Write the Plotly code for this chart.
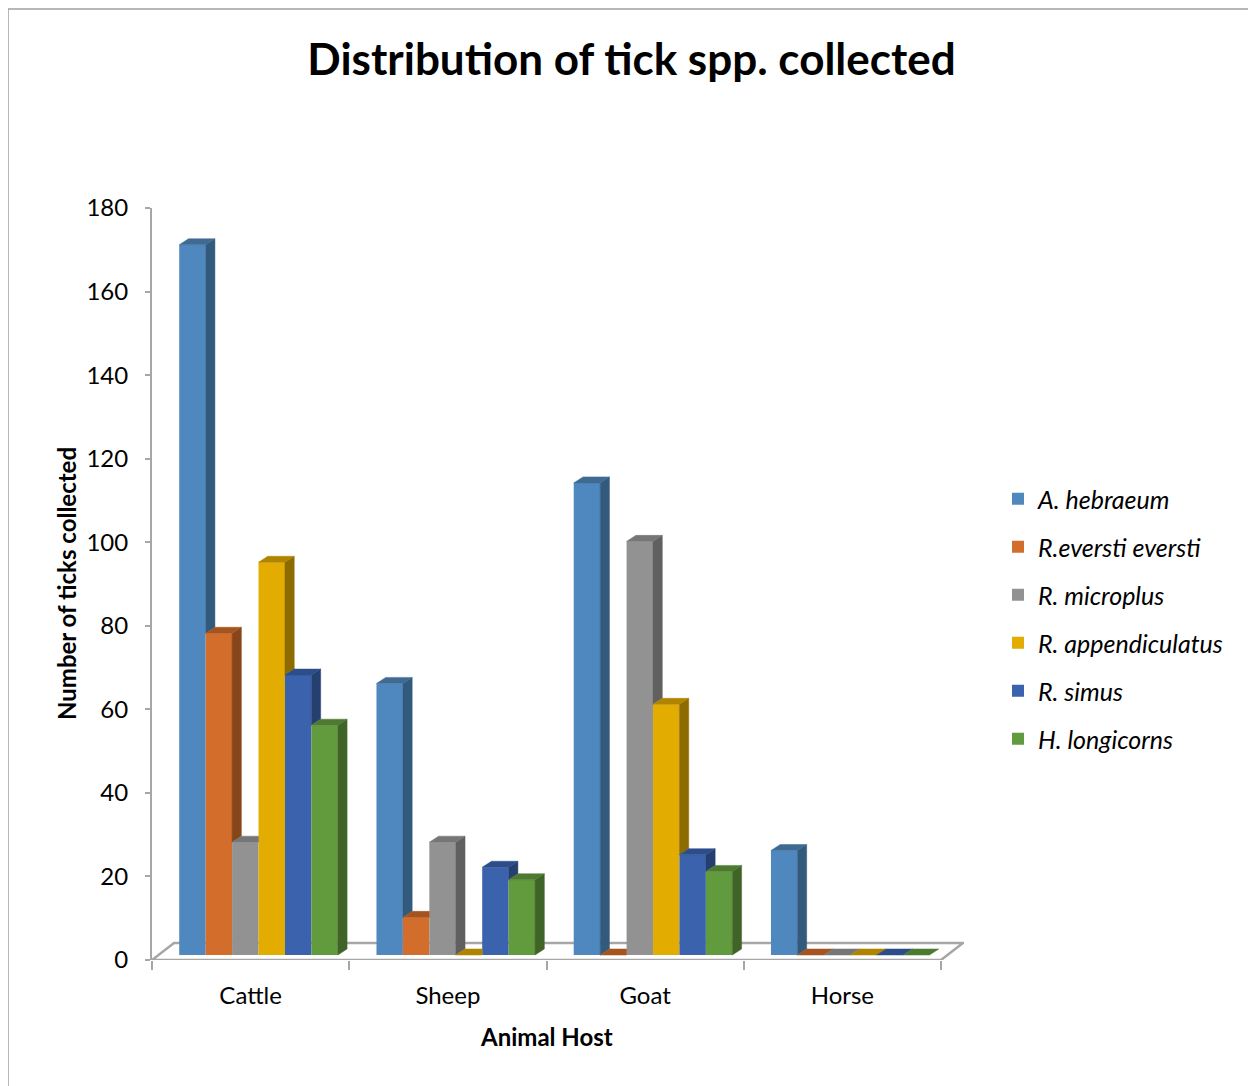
import plotly.graph_objects as go

# ---------------- data ----------------
hosts = ["Cattle", "Sheep", "Goat", "Horse"]
species = ["A. hebraeum", "R.eversti eversti", "R. microplus",
           "R. appendiculatus", "R. simus", "H. longicorns"]
a_hebraeum = [170, 65, 113, 25]
r_eversti_eversti = [77, 9, 0, 0]
r_microplus = [27, 27, 99, 0]
r_appendiculatus = [94, 0, 60, 0]
r_simus = [67, 21, 24, 0]
h_longicorns = [55, 18, 20, 0]
y_tick_values = list(range(0, 181, 20))

series = [a_hebraeum, r_eversti_eversti, r_microplus,
          r_appendiculatus, r_simus, h_longicorns]

# ---------------- style ----------------
front_colors = ["#4F88BF", "#D26D2B", "#929292", "#E2AC00", "#3A62AD", "#629A3E"]
side_colors = ["#325A7D", "#86461A", "#606060", "#8E6B00", "#253F70", "#406428"]
top_colors = ["#3E6A93", "#A5541F", "#767676", "#AF8500", "#2C4D8A", "#4C7A30"]

FONT = "Lato, 'Open Sans', sans-serif"
GROUP_LEFT = -0.362   # left edge of first bar relative to category centre
BAR_W = 0.134         # width of one bar (category units)
BASE = 1.2            # bars stand slightly behind the floor front edge
DX, DY = 0.047, 1.44  # bar depth projection
FDX, FDY = 0.1115, 4.07  # floor depth projection
X_MAX = 3.6166

OFF = 8  # page body margin offset
W, H = 1256 - OFF, 1086 - OFF
L, T = 152 - OFF, 208 - OFF
plot_w = 964 - 152
plot_h = 960 - 208
R = W - L - plot_w
B = H - T - plot_h


def px_to_paper_x(px):
    return (px - 152) / plot_w


def px_to_paper_y(py):
    return (960 - py) / plot_h


fig = go.Figure()

n_cat = len(hosts)
n_sp = len(species)

# front faces (real bar traces)
for j, (name, vals) in enumerate(zip(species, series)):
    fig.add_trace(go.Bar(
        x=list(range(n_cat)), y=vals, base=BASE,
        width=BAR_W, offset=GROUP_LEFT + j * BAR_W,
        name="<i>" + name + "</i>",
        legendgroup=name,
        marker=dict(color=front_colors[j], line=dict(width=0)),
        customdata=vals,
        hovertemplate="%{customdata}<extra>" + name + "</extra>",
    ))

# side and top faces, derived from the same values
for j, vals in enumerate(series):
    sx, sy, tx, ty = [], [], [], []
    for i in range(n_cat):
        v = vals[i]
        nv = series[j + 1][i] if j + 1 < n_sp else None
        xl = i + GROUP_LEFT + j * BAR_W
        xr = xl + BAR_W
        t = BASE + v
        lower = BASE if nv is None else BASE + nv
        if t > lower:
            sx += [xr, xr + DX, xr + DX, xr, xr, None]
            sy += [lower, lower + DY, t + DY, t, lower, None]
        if nv is not None and nv > v:
            tx += [xl, xl + DX, xr, xr, xl, None]
        else:
            tx += [xl, xl + DX, xr + DX, xr, xl, None]
        ty += [t, t + DY, t + DY, t, t, None]
    fig.add_trace(go.Scatter(x=sx, y=sy, mode="lines", fill="toself",
                             fillcolor=side_colors[j],
                             line=dict(color=side_colors[j], width=0.5),
                             hoverinfo="skip", showlegend=False))
    fig.add_trace(go.Scatter(x=tx, y=ty, mode="lines", fill="toself",
                             fillcolor=top_colors[j],
                             line=dict(color=top_colors[j], width=0.5),
                             hoverinfo="skip", showlegend=False))

GRAY = "#A6A6A6"

shapes = [
    dict(type="path", xref="x", yref="y", layer="below",
         path=f"M -0.5,0 L {n_cat - 0.5},0 L {n_cat - 0.5 + FDX},{FDY} L {-0.5 + FDX},{FDY} Z",
         line=dict(color=GRAY, width=2.5), fillcolor="white"),
    dict(type="rect", xref="paper", yref="paper",
         x0=px_to_paper_x(8), x1=px_to_paper_x(1255),
         y0=px_to_paper_y(1095), y1=px_to_paper_y(9),
         line=dict(color="#A0A0A0", width=1.5), fillcolor="rgba(0,0,0,0)"),
]

annotations = [
    dict(text="<b>Animal Host</b>", xref="x", yref="paper", x=(n_cat - 1) / 2,
         y=px_to_paper_y(1036), xanchor="center", yanchor="middle",
         showarrow=False, font=dict(family=FONT, size=24, color="#000")),
    dict(text="<b>Number of ticks collected</b>", xref="paper", yref="paper",
         x=px_to_paper_x(66), y=0.5, textangle=-90, xanchor="center",
         yanchor="middle", showarrow=False,
         font=dict(family=FONT, size=24, color="#000")),
]

fig.update_layout(
    width=W, height=H,
    margin=dict(l=L, r=R, t=T, b=B, autoexpand=False),
    paper_bgcolor="white", plot_bgcolor="white",
    title=dict(text="<b>Distribution of tick spp. collected</b>",
               x=(631.5 - OFF) / W, xanchor="center", xref="container",
               y=1 - (60 - OFF) / H, yanchor="middle", yref="container",
               font=dict(family=FONT, size=44, color="#000")),
    barmode="overlay",
    showlegend=True,
    legend=dict(x=px_to_paper_x(998), xanchor="left",
                y=px_to_paper_y(476), yanchor="top",
                font=dict(family=FONT, size=25, color="#000"),
                tracegroupgap=12.5, bgcolor="rgba(0,0,0,0)",
                traceorder="grouped"),
    xaxis=dict(range=[-0.5, X_MAX], tickmode="array",
               tickvals=list(range(n_cat)), ticktext=hosts, ticks="",
               showline=False, zeroline=False, showgrid=False,
               tickfont=dict(family=FONT, size=24, color="#000"),
               ticklabelstandoff=19,
               minor=dict(tickmode="array",
                          tickvals=[k - 0.5 for k in range(n_cat + 1)],
                          ticks="outside", ticklen=9, tickwidth=2,
                          tickcolor=GRAY, showgrid=False),
               fixedrange=True),
    yaxis=dict(range=[0, 180], tickmode="array", tickvals=y_tick_values,
               ticks="outside", ticklen=5, tickwidth=2, tickcolor=GRAY,
               showline=True, linecolor=GRAY, linewidth=2,
               showgrid=False, zeroline=False,
               tickfont=dict(family=FONT, size=24, color="#000"),
               ticklabelstandoff=12, fixedrange=True),
    shapes=shapes,
    annotations=annotations,
)

fig.write_html("out.html")
